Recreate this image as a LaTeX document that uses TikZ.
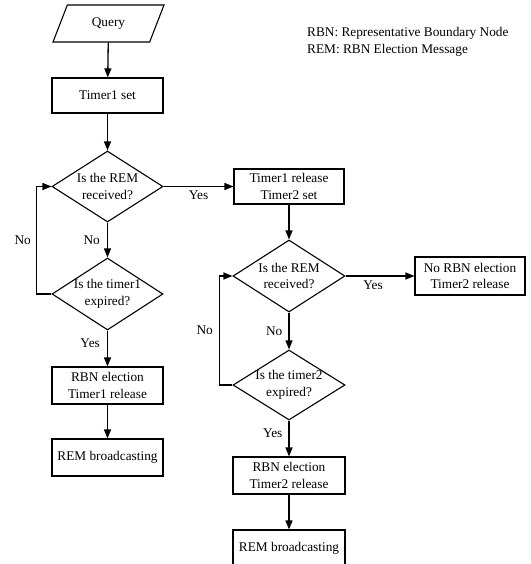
\documentclass[tikz,border=0pt]{standalone}
\usepackage{fontspec}
\setmainfont{Liberation Serif}
\usepackage{tikz}
\usetikzlibrary{arrows.meta,positioning,shapes.geometric}

\tikzset{
  procbox/.style={draw,line width=1.1pt,minimum width=111pt,minimum height=37pt,
    inner sep=1pt,align=center},
  decision/.style={draw,diamond,line width=1.1pt,aspect=1.56,inner sep=-6pt,
    minimum width=111pt,minimum height=71pt,align=center},
  flow/.style={line width=1.3pt,-{Triangle[length=9pt,width=7pt]}},
  lbl/.style={inner sep=1pt}
}

\begin{document}
\begin{tikzpicture}[x=1pt,y=-1pt,font=\fontsize{13.3}{16.5}\selectfont]
  \useasboundingbox (0,0) rectangle (530,564);
  % --- left branch: query, timer1 and its loop ---
  \node[draw,trapezium,trapezium left angle=52,trapezium right angle=128,
        trapezium stretches body,minimum width=111pt,minimum height=37pt,
        line width=1.1pt] (query) at (108.5,23.5) {Query};
  \node[procbox,minimum height=35pt] (t1set) at (107.5,95.5) {Timer1 set};
  \node[decision] (recv1) at (107.5,186.5) {Is the REM\\received?};
  \node[decision,minimum height=72pt] (exp1) at (107.5,294) {Is the timer1\\expired?};
  \node[procbox] (rbn1) at (107.5,385.5) {RBN election\\Timer1 release};
  \node[procbox] (bc1) at (107.5,457.5) {REM broadcasting};
  % --- right branch: timer2 ---
  \node[procbox,minimum width=110pt,minimum height=35pt] (trel) at (289,186.5)
        {Timer1 release\\Timer2 set};
  \node[decision,minimum width=112pt,minimum height=72pt] (recv2) at (289,276)
        {Is the REM\\received?};
  \node[procbox,minimum width=110pt,minimum height=38pt] (norbn) at (470,276)
        {No RBN election\\Timer2 release};
  \node[decision,minimum width=112pt,minimum height=70pt] (exp2) at (289,385)
        {Is the timer2\\expired?};
  \node[procbox,minimum width=112pt] (rbn2) at (289,475.5) {RBN election\\Timer2 release};
  \node[procbox,minimum width=112pt] (bc2) at (289,548.5) {REM broadcasting};
  % --- legend ---
  \node[anchor=west,align=left,inner sep=2pt] (legend) at (305,42)
        {RBN: Representative Boundary Node\\REM: RBN Election Message};
  % --- connectors ---
  \draw[flow] (query) -- (t1set);
  \draw[flow] (t1set) -- (recv1);
  \draw[flow] (recv1) -- node[lbl,below=3pt] {Yes} (trel);
  \draw[flow] (recv1) -- node[lbl,left=6pt] {No} (exp1);
  \draw[flow] (exp1.west) -- ++(-15,0) |- node[lbl,left=4pt,pos=0.25] {No} (recv1.west);
  \draw[flow] (exp1) -- node[lbl,left=6pt,pos=0.35] {Yes} (rbn1);
  \draw[flow] (rbn1) -- (bc1);
  \draw[flow] (trel) -- (recv2);
  \draw[flow] (recv2) -- node[lbl,below=3pt,pos=0.4] {Yes} (norbn);
  \draw[flow] (recv2) -- node[lbl,left=5pt] {No} (exp2);
  \draw[flow] (exp2.west) -- ++(-13,0) |- node[lbl,left=5pt,pos=0.25] {No} (recv2.west);
  \draw[flow] (exp2) -- node[lbl,left=5pt,pos=0.35] {Yes} (rbn2);
  \draw[flow] (rbn2) -- (bc2);
\end{tikzpicture}
\end{document}
